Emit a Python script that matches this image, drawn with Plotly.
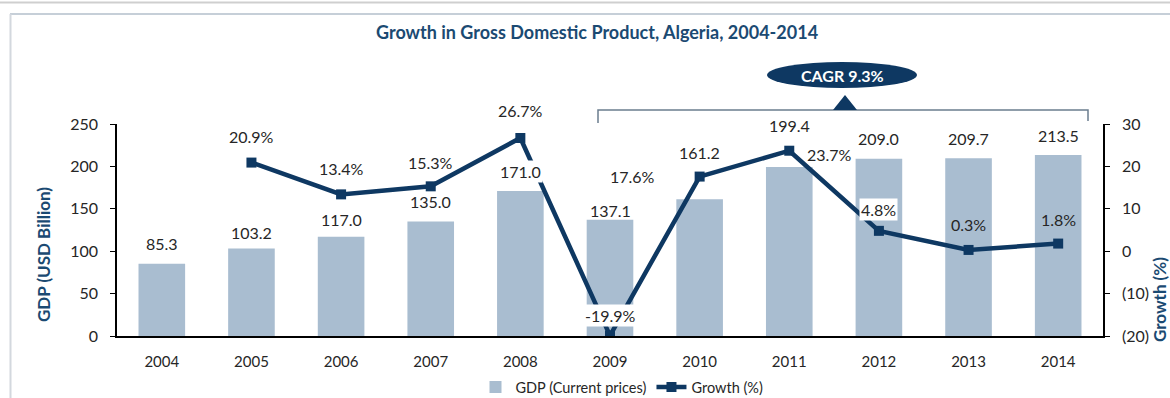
import plotly.graph_objects as go

# Algeria GDP (current prices, USD bn) and annual growth (%)
years = [2004, 2005, 2006, 2007, 2008, 2009, 2010, 2011, 2012, 2013, 2014]
gdp = [85.3, 103.2, 117.0, 135.0, 171.0, 137.1, 161.2, 199.4, 209.0, 209.7, 213.5]
growth_years = years[1:]
growth = [20.9, 13.4, 15.3, 26.7, -19.9, 17.6, 23.7, 4.8, 0.3, 1.8]
cagr_label = "CAGR 9.3%"

W, H = 1170, 398
NAVY = "#0e3862"
TITLE_NAVY = "#1b4a72"
BAR = "#a9bdd0"
TXT = "#262626"
FONT = "Lato, Open Sans, sans-serif"


def px(x):
    return x / W


def py(y):
    return 1 - y / H


fig = go.Figure()
fig.add_trace(go.Bar(
    x=years, y=gdp, name="GDP (Current prices)",
    marker=dict(color=BAR, line=dict(width=0)), width=0.52,
    yaxis="y", hoverinfo="skip",
))
fig.add_trace(go.Scatter(
    x=growth_years, y=growth, name="Growth (%)", mode="lines+markers",
    line=dict(color=NAVY, width=4.5), marker=dict(symbol="square", size=10, color=NAVY),
    yaxis="y2", hoverinfo="skip",
))

annotations = []
# GDP value labels: vertical offset (px) above each bar top
bar_offsets = [20, 16, 17, 20, 19, 9, 47, 41, 20, 20, 19]
bar_bg = [False, False, False, False, True, False, False, False, False, False, False]
for yr, v, off, bg in zip(years, gdp, bar_offsets, bar_bg):
    annotations.append(dict(
        x=yr, y=v, xref="x", yref="y", text=f"{v:.1f}", showarrow=False,
        xanchor="center", yanchor="middle",
        yshift=off, font=dict(size=16, color=TXT, family=FONT),
        bgcolor="white" if bg else None, borderpad=1,
    ))

# growth labels: (dx, dy) offsets from each marker, and white box flag
growth_offsets = [(0, 26), (0, 26), (0, 24), (0, 27), (0, 20), (-67, 0), (40, -4), (0, 21), (0, 25), (0, 24)]
growth_bg = [False, False, False, False, True, False, False, True, False, False]
for yr, v, (dx, dy), bg in zip(growth_years, growth, growth_offsets, growth_bg):
    annotations.append(dict(
        x=yr, y=v, xref="x", yref="y2", text=f"{v:.1f}%", showarrow=False,
        xanchor="center", yanchor="middle",
        xshift=dx, yshift=dy, font=dict(size=16, color=TXT, family=FONT),
        bgcolor="white" if bg else None, borderpad=1,
    ))

# title, axis titles and the CAGR badge text
annotations += [
    dict(x=px(597), y=py(32), xref="paper", yref="paper", showarrow=False,
         xanchor="center", yanchor="middle",
         text="<b>Growth in Gross Domestic Product, Algeria, 2004-2014</b>",
         font=dict(size=18, color=TITLE_NAVY, family=FONT)),
    dict(x=px(43), y=py(255), xref="paper", yref="paper", showarrow=False, textangle=-90,
         xanchor="center", yanchor="middle",
         text="<b>GDP (USD Billion)</b>", font=dict(size=17, color=TITLE_NAVY, family=FONT)),
    dict(x=px(1159), y=py(300), xref="paper", yref="paper", showarrow=False, textangle=-90,
         xanchor="center", yanchor="middle",
         text="<b>Growth (%)</b>", font=dict(size=17, color=TITLE_NAVY, family=FONT)),
    dict(x=px(842), y=py(75), xref="paper", yref="paper", showarrow=False,
         xanchor="center", yanchor="middle",
         text=f"<b>{cagr_label}</b>", font=dict(size=16, color="white", family=FONT)),
]

shapes = [
    # page rule and framing box
    dict(type="line", xref="paper", yref="paper", x0=0, x1=1, y0=py(2.5), y1=py(2.5),
         line=dict(color="#cfcfcf", width=2)),
    dict(type="line", xref="paper", yref="paper", x0=px(10), x1=1, y0=py(14), y1=py(14),
         line=dict(color="#c6cfd8", width=2)),
    dict(type="line", xref="paper", yref="paper", x0=px(10.5), x1=px(10.5), y0=py(14), y1=0,
         line=dict(color="#d3d8de", width=2)),
    # CAGR bracket
    dict(type="path", xref="paper", yref="paper",
         path=f"M {px(598)},{py(123)} L {px(598)},{py(110)} L {px(1088)},{py(110)} L {px(1088)},{py(121)}",
         line=dict(color="#6b7d8f", width=1.5)),
    dict(type="path", xref="paper", yref="paper",
         path=f"M {px(833)},{py(110)} L {px(845)},{py(95)} L {px(857)},{py(110)} Z",
         fillcolor=NAVY, line=dict(color=NAVY, width=0)),
    dict(type="circle", xref="paper", yref="paper",
         x0=px(767), x1=px(917), y0=py(88), y1=py(62),
         fillcolor=NAVY, line=dict(color=NAVY, width=0)),
]

axis_font = dict(size=16, color=TXT, family=FONT)
fig.update_layout(
    width=W, height=H,
    margin=dict(l=0, r=0, t=0, b=0, autoexpand=False),
    paper_bgcolor="white", plot_bgcolor="white",
    font=dict(family=FONT, color=TXT),
    xaxis=dict(
        domain=[px(117), px(1103)], type="linear", range=[2003.5, 2014.5],
        tickvals=years, ticktext=[str(y) for y in years], showgrid=False,
        showline=True, linecolor="black", linewidth=1.5, ticks="",
        tickfont=dict(size=15, color=TXT, family=FONT), ticklabelstandoff=11,
        anchor="y", zeroline=False, automargin=False,
    ),
    yaxis=dict(
        domain=[py(336), py(124)], range=[0, 250], tickvals=[0, 50, 100, 150, 200, 250],
        showgrid=False, zeroline=False, showline=True, linecolor="black", linewidth=1.5,
        ticks="outside", ticklen=5, tickcolor="black", tickwidth=1.2,
        tickfont=axis_font, ticklabelstandoff=9, automargin=False,
    ),
    yaxis2=dict(
        overlaying="y", side="right", anchor="x", range=[-20, 30],
        tickvals=[-20, -10, 0, 10, 20, 30],
        ticktext=["(20)", "(10)", "0", "10", "20", "30"],
        showgrid=False, zeroline=False, showline=True, linecolor="black", linewidth=1.5,
        ticks="outside", ticklen=5, tickcolor="black", tickwidth=1.2,
        tickfont=axis_font, ticklabelstandoff=9, automargin=False,
    ),
    legend=dict(
        orientation="h", x=px(622), xanchor="center", y=py(387), yanchor="middle",
        font=dict(size=14.5, color=TXT, family=FONT), bgcolor="rgba(0,0,0,0)",
        itemwidth=30, tracegroupgap=0,
    ),
    annotations=annotations,
    shapes=shapes,
)

fig.write_html("out.html")
